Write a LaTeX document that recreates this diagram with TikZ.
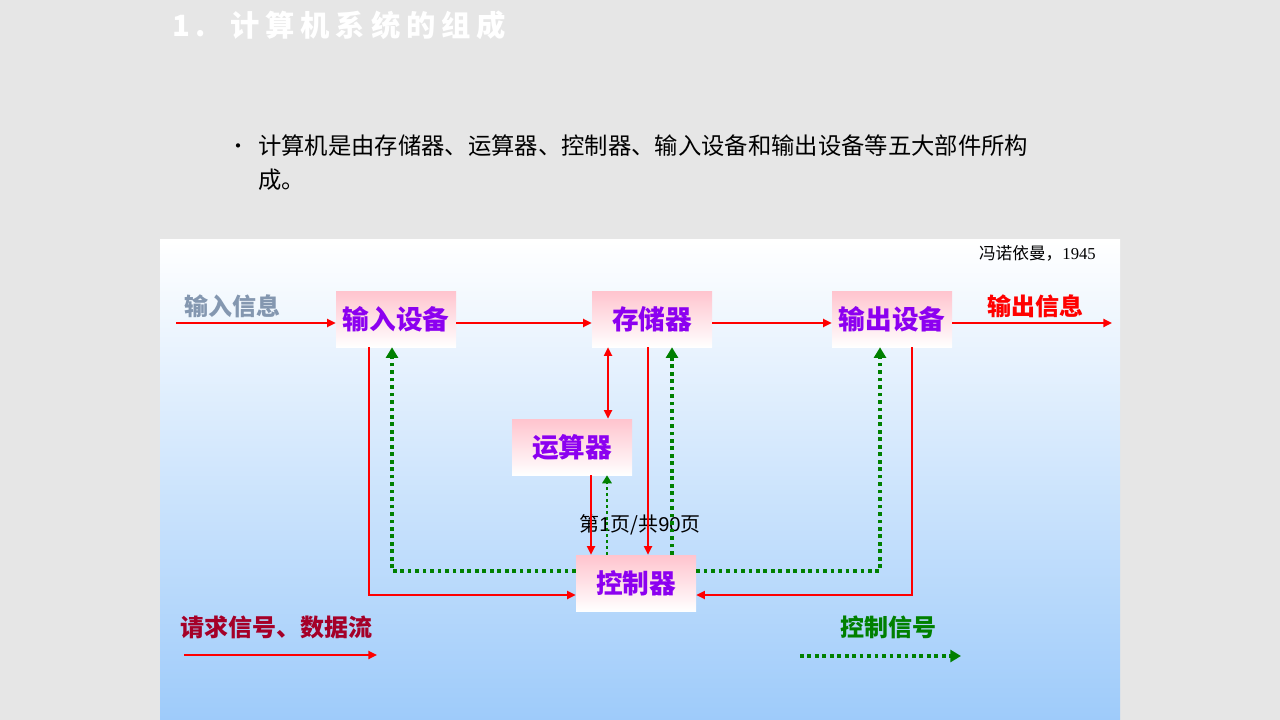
\documentclass[tikz,border=0pt]{standalone}
\usepackage{fontspec}
\usetikzlibrary{arrows.meta}
\newfontfamily\cjk{Noto Sans CJK SC}
\newfontfamily\cjkspaced[LetterSpace=20]{Noto Sans CJK SC}
\newfontfamily\serifnum{Liberation Serif}
\newfontfamily\lsans{Liberation Sans}
\definecolor{bggray}{RGB}{230,230,230}
\definecolor{panelblue}{RGB}{158,203,250}
\definecolor{boxpink}{RGB}{255,196,206}
\definecolor{purp}{RGB}{140,0,240}
\definecolor{inblue}{RGB}{132,151,176}
\definecolor{dred}{RGB}{165,0,40}
\definecolor{lred}{RGB}{255,0,0}
\definecolor{lgreen}{RGB}{0,128,0}
\tikzset{
  unit/.style={minimum width=90pt, minimum height=42pt, inner sep=0pt,
    top color=boxpink, bottom color=white, draw=none,
    font=\cjk\bfseries\fontsize{20}{22}\selectfont, text=purp},
  req/.style={draw=lred, line width=1.8pt, -{Triangle[length=6.5pt,width=6pt]}},
  reqboth/.style={draw=lred, line width=1.8pt, {Triangle[length=6.5pt,width=6pt]}-{Triangle[length=6.5pt,width=6pt]}},
  ctrl/.style={draw=lgreen, line width=2.8pt, dash pattern=on 2.8pt off 2.8pt, -{Triangle[length=8pt,width=9pt]}},
  lbl/.style={font=\cjk\bfseries\fontsize{18}{20}\selectfont}
}
\begin{document}
\begin{tikzpicture}[x=0.75pt,y=-0.75pt]
\useasboundingbox (0,0) rectangle (1280,720);
\fill[bggray] (0,0) rectangle (1280,720);
\shade[top color=white, bottom color=panelblue] (160,240) rectangle (1120,720);
% title and bullet
\node[anchor=west, text=white, inner sep=0pt] (title) at (172,25)
  {\cjkspaced\bfseries\fontsize{22}{24}\selectfont 1.\hspace{18pt}计算机系统的组成};
\node[anchor=center, inner sep=0pt, font=\cjk\fontsize{15}{16}\selectfont] (bul) at (238,149) {•};
\node[anchor=north west, inner sep=0pt, align=left, font=\cjk\fontsize{17.5}{25.5}\selectfont] (btext) at (258,135)
  {计算机是由存储器、运算器、控制器、输入设备和输出设备等五大部件所构\\成。};
% units
\node[unit] (in)  at (396,319) {输入设备};
\node[unit] (mem) at (652,319) {存储器};
\node[unit] (out) at (892,319) {输出设备};
\node[unit] (alu) at (572,447) {运算器};
\node[unit] (ctl) at (636,583) {控制器};
% texts
\node[anchor=east, inner sep=0pt] (vn) at (1096,253) {\cjk\fontsize{12.5}{14}\selectfont 冯诺依曼，\serifnum 1945};
\node[lbl, text=inblue] (inlbl) at (232,306) {输入信息};
\node[lbl, text=lred] (outlbl) at (1035,306) {输出信息};
\node[inner sep=0pt] (page) at (640,525) {\cjk\fontsize{15}{16}\selectfont 第\lsans 1\cjk 页/共\lsans 90\cjk 页};
\node[lbl, text=dred] (leg1) at (276,627) {请求信号、数据流};
\node[lbl, text=lgreen] (leg2) at (888,627) {控制信号};
% free ends
\coordinate (instart) at (176,323);
\coordinate (outend) at (1112,323);
\coordinate (l1a) at (184,655);
\coordinate (l1b) at (377,655);
\coordinate (l2a) at (800,656);
\coordinate (l2b) at (961,656);
% horizontal main flow
\draw[req] (instart) -- (instart -| in.west);
\draw[req] (in.east |- 0,323) -- (mem.west |- 0,323);
\draw[req] (mem.east |- 0,323) -- (out.west |- 0,323);
\draw[req] (out.east |- 0,323) -- (outend);
% memory - alu
\draw[reqboth] (mem.south -| 608,0) -- (alu.north -| 608,0);
% memory -> control, control -> memory
\draw[req] (mem.south -| 648,0) -- (ctl.north -| 648,0);
\draw[ctrl] (ctl.north -| 672,0) -- (mem.south -| 672,0);
% alu -> control, control -> alu
\draw[req] (alu.south -| 591,0) -- (ctl.north -| 591,0);
\draw[ctrl, line width=2.2pt, dash pattern=on 2.2pt off 2.2pt, -{Triangle[length=6pt,width=7pt]}] (ctl.north -| 607,0) -- (alu.south -| 607,0);
% input device <-> control
\draw[req] (in.south -| 369,0) |- (ctl.west |- 0,595);
\draw[ctrl] (ctl.west |- 0,571) -| (in.south -| 392,0);
% output device <-> control
\draw[ctrl] (ctl.east |- 0,571) -| (out.south -| 880,0);
\draw[req] (out.south -| 912,0) |- (ctl.east |- 0,595);
% legend
\draw[req] (l1a) -- (l1b);
\draw[ctrl] (l2a) -- (l2b);
\end{tikzpicture}
\end{document}
